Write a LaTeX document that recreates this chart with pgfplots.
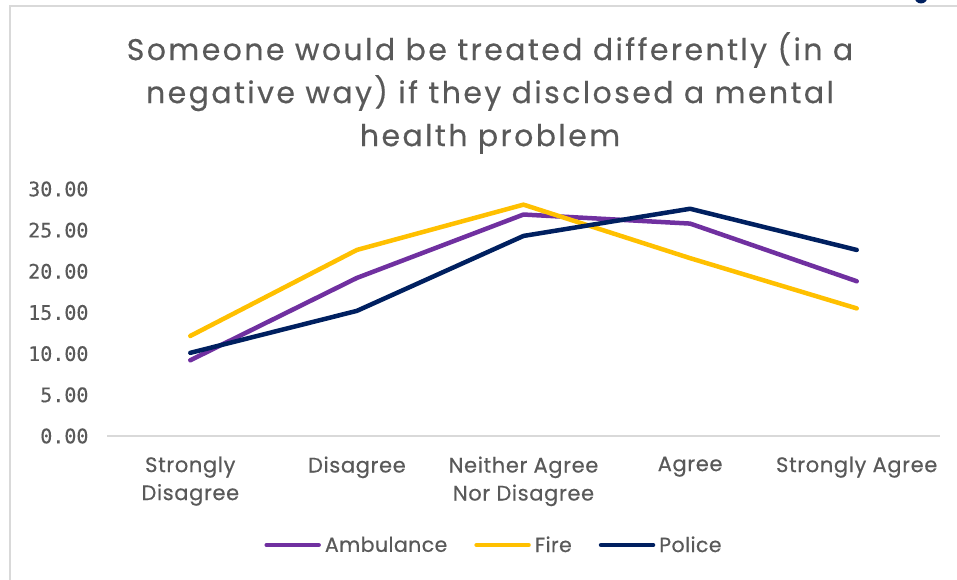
\documentclass[border=0pt]{standalone}
\usepackage{pgfplots}
\pgfplotsset{compat=1.18}
\usepackage{fontspec}
\setmainfont{Poppins}[FakeBold=0.4]
\newfontfamily\monofont{DejaVu Sans Mono}[FakeBold=0.3]

\definecolor{ambulance}{HTML}{7030A0}
\definecolor{fire}{HTML}{FFC000}
\definecolor{police}{HTML}{002060}
\definecolor{textgray}{HTML}{595959}
\definecolor{framegray}{HTML}{D9D9D9}

\pgfplotstableread{
x  amb    fire   pol
0  9.20   12.15  10.10
1  19.20  22.60  15.20
2  26.90  28.10  24.30
3  25.80  21.60  27.60
4  18.80  15.50  22.60
}\datatable

\begin{document}
\begin{tikzpicture}[x=1pt,y=1pt]
\useasboundingbox (0,0) rectangle (957,579);
\fill[white] (0,0) rectangle (957,579);
% chart frame
\draw[framegray, line width=1.5pt] (10,-5) -- (10,573) -- (965,573);
\fill[police] (921,582) circle (6.5);

% title
\node[align=center, text=textgray, font=\fontsize{30}{43}\selectfont\addfontfeature{LetterSpace=8}] at (490,486)
  {Someone would be treated differently (in a\\negative way) if they disclosed a mental\\health problem};

\begin{axis}[
  at={(107pt,143pt)}, anchor=south west,
  scale only axis, width=833pt, height=247pt,
  xmin=-0.5, xmax=4.5, ymin=0, ymax=30,
  axis x line*=bottom, axis y line*=left,
  x axis line style={framegray, line width=1.5pt, -},
  y axis line style={draw=none},
  major tick length=0pt,
  ytick={0,5,...,30},
  yticklabel={\pgfmathprintnumber[fixed, fixed zerofill, precision=2]{\tick}},
  yticklabel style={font=\monofont\fontsize{20}{22}\selectfont, text=textgray, xshift=-15pt},
  /pgf/number format/assume math mode=true,
  xtick={0,1,2,3,4},
  xticklabels={{Strongly\\Disagree},Disagree,{Neither Agree\\Nor Disagree},Agree,{Strongly Agree}},
  xticklabel style={align=center, font=\fontsize{21}{28}\selectfont\addfontfeature{LetterSpace=3}, text=textgray, yshift=-17pt},
  clip=false,
  legend columns=3,
  legend style={at={(0.5,0)}, anchor=center, xshift=-30pt, yshift=-109pt, draw=none, fill=none,
    font=\fontsize{20.5}{24}\selectfont\addfontfeature{LetterSpace=2}, text=textgray,
    nodes={inner sep=1pt},
    /tikz/every odd column/.append style={column sep=3pt},
    /tikz/every even column/.append style={column sep=26pt}},
  legend image code/.code={\draw[line width=4.5pt, line cap=round] (0pt,0pt) -- (52pt,0pt);},
  every axis plot/.append style={line width=4.5pt, line join=round, line cap=round, mark=none},
]
\addplot[ambulance] table[x=x, y=amb] {\datatable};
\addlegendentry{Ambulance}
\addplot[fire] table[x=x, y=fire] {\datatable};
\addlegendentry{Fire}
\addplot[police] table[x=x, y=pol] {\datatable};
\addlegendentry{Police}
\end{axis}
\end{tikzpicture}
\end{document}
